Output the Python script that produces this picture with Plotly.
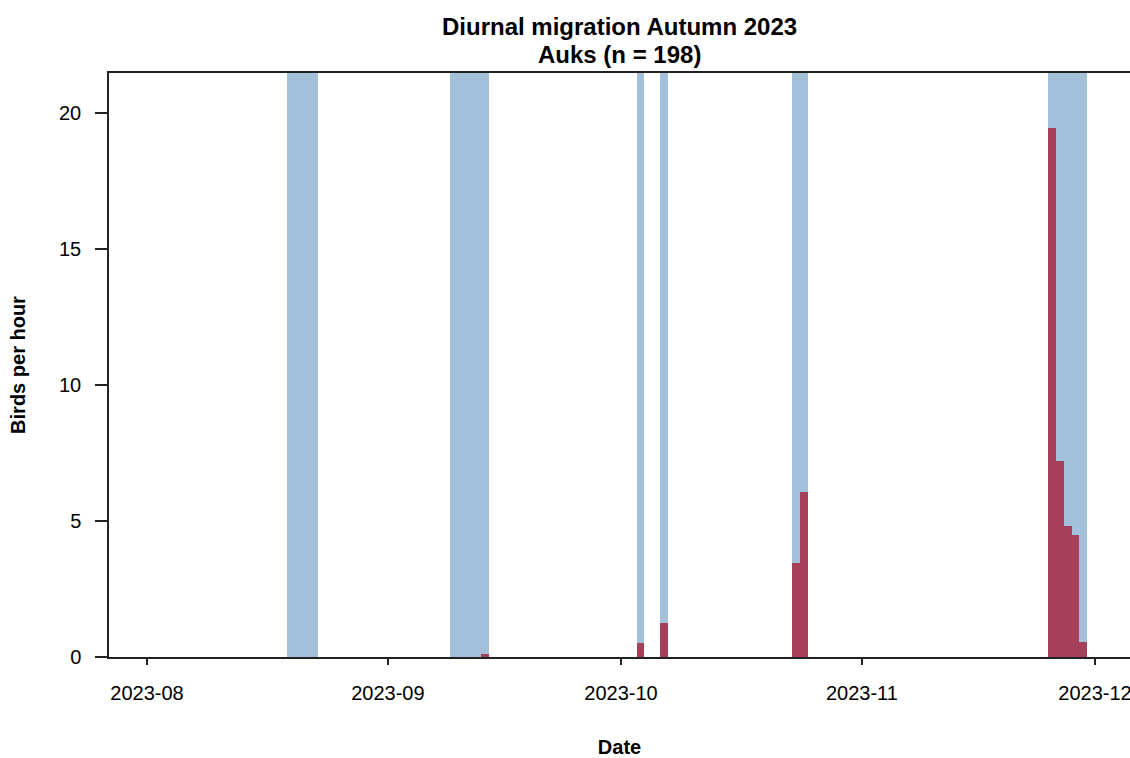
import plotly.graph_objects as go
import pandas as pd

# Observation (effort) days - shaded background
effort_days = ["2023-08-19", "2023-08-20", "2023-08-21", "2023-08-22",
               "2023-09-09", "2023-09-10", "2023-09-11", "2023-09-12", "2023-09-13",
               "2023-10-03", "2023-10-06",
               "2023-10-23", "2023-10-24",
               "2023-11-25", "2023-11-26", "2023-11-27", "2023-11-28", "2023-11-29"]

# Birds per hour on days with auks
count_days = ["2023-09-13", "2023-10-03", "2023-10-06", "2023-10-23", "2023-10-24",
              "2023-11-25", "2023-11-26", "2023-11-27", "2023-11-28", "2023-11-29"]
birds_per_hour = [0.12, 0.5, 1.25, 3.45, 6.05, 19.45, 7.2, 4.8, 4.5, 0.55]

y_ticks = [0, 5, 10, 15, 20]
y_range = [0, 21.47]
x_range = ["2023-07-27 02:40", "2023-12-05 12:00"]

title_lines = ["Diurnal migration Autumn 2023", "Auks (n = 198)"]

BLUE = "#a3c0db"
RED = "#a4405a"
DAY_MS = 86400000

fig = go.Figure()
fig.add_trace(go.Bar(
    x=pd.to_datetime(effort_days), y=[y_range[1]] * len(effort_days),
    width=DAY_MS, offset=0, marker=dict(color=BLUE, line=dict(width=0)),
    hoverinfo="skip", showlegend=False))
fig.add_trace(go.Bar(
    x=pd.to_datetime(count_days), y=birds_per_hour,
    width=DAY_MS, offset=0, marker=dict(color=RED, line=dict(width=0)),
    showlegend=False))

font = "Liberation Sans, Arial, sans-serif"
H_PLOT = 758 - 73 - 101
for i, (line, ypix) in enumerate(zip(title_lines, [26, 54])):
    fig.add_annotation(text=f"<b>{line}</b>", xref="paper", yref="paper",
                       x=0.5, y=(657 - ypix) / H_PLOT, xanchor="center",
                       yanchor="middle", showarrow=False,
                       font=dict(family=font, size=24, color="black"))

fig.update_layout(
    width=1130, height=758,
    margin=dict(l=109, r=0, t=73, b=101, autoexpand=False),
    paper_bgcolor="white", plot_bgcolor="white",
    barmode="overlay", bargap=0,
    font=dict(family=font, size=20, color="black"),
    xaxis=dict(type="date", range=x_range, dtick="M1", tick0="2023-08-01",
               tickformat="%Y-%m", ticks="outside", ticklen=6, tickwidth=1.5,
               tickcolor="#222", showline=True, linecolor="#222", linewidth=1.5,
               mirror=True, showgrid=False, zeroline=False, automargin=False,
               ticklabelstandoff=11, ticklabeloverflow="allow",
               title=dict(text="<b>Date</b>", standoff=41,
                          font=dict(family=font, size=20))),
    yaxis=dict(range=y_range, tickvals=y_ticks, ticks="outside", ticklen=12,
               tickwidth=1.5, tickcolor="#222", showline=True, linecolor="#222",
               linewidth=1.5, showgrid=False, zeroline=False, automargin=False,
               ticklabelstandoff=10,
               title=dict(text="<b>Birds per hour</b>", standoff=28,
                          font=dict(family=font, size=20))),
)

fig.write_html("out.html", config={"displayModeBar": False},
               post_script="document.body.style.margin='0';document.body.style.overflow='hidden';")
